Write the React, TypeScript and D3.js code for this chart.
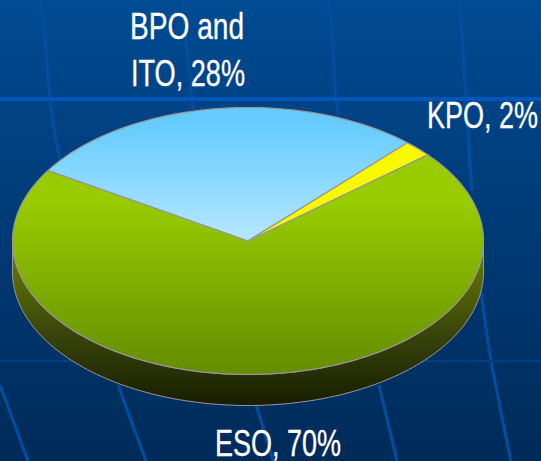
import React from "react";
import * as d3 from "d3";

const categories = ["BPO and ITO", "KPO", "ESO"];
const shares = [28, 2, 70];
const sliceFills = ["url(#blue)", "#f8f800", "url(#green)"];
const gridLines: [number, number][][] = [
  [[41, 0], [46, 50], [50, 99], [54, 130], [60, 160]],
  [[182, 0], [187, 50], [192, 99], [194, 112]],
  [[329, 0], [333, 50], [336, 99], [339, 120]],
  [[460, 0], [463, 50], [466, 99], [469, 150], [472, 190]],
  [[481, 292], [491, 360], [511, 461]],
  [[379, 385], [397, 461]],
  [[256, 405], [270, 450], [273, 461]],
  [[118, 385], [146, 461]],
  [[0, 385], [28, 461]],
];
const START = (-58.2 * Math.PI) / 180;

const cx = 248, cy = 241, rx = 235.5, ry = 133.5, depth = 31;

function pt(a: number, dy = 0): [number, number] {
  return [cx + rx * Math.sin(a), cy - ry * Math.cos(a) + dy];
}
function arcPts(a0: number, a1: number, dy = 0) {
  const n = Math.max(2, Math.ceil(Math.abs(a1 - a0) * 40));
  return d3.range(n + 1).map((i) => pt(a0 + ((a1 - a0) * i) / n, dy));
}
const line = d3.line();
const smooth = d3.line().curve(d3.curveCatmullRom);

export default function App() {
  const arcs = d3.pie<number>().sort(null).startAngle(START).endAngle(START + 2 * Math.PI)(shares);
  const wallPts = [...arcPts(Math.PI / 2, (3 * Math.PI) / 2), ...arcPts((3 * Math.PI) / 2, Math.PI / 2, depth)];
  const textStyle: React.CSSProperties = { fontFamily: "'Liberation Sans', sans-serif", fontSize: 36, fill: "#fff", stroke: "#fff", strokeWidth: 0.3 };
  const label = (t: string, x: number, y: number, w: number) => (
    <text x={x} y={y} textLength={w} lengthAdjust="spacingAndGlyphs" style={textStyle}>{t}</text>
  );
  return (
    <svg width={541} height={461} style={{ position: "fixed", left: 0, top: 0 }}>
      <defs>
        <linearGradient id="bg" x1="0" y1="0" x2="0" y2="1">
          <stop offset="0" stopColor="#004b93" />
          <stop offset="0.5" stopColor="#003a76" />
          <stop offset="1" stopColor="#002b5a" />
        </linearGradient>
        <linearGradient id="blue" gradientUnits="userSpaceOnUse" x1="0" y1="125" x2="0" y2="241">
          <stop offset="0" stopColor="#66ccff" />
          <stop offset="1" stopColor="#b6e7ff" />
        </linearGradient>
        <linearGradient id="green" gradientUnits="userSpaceOnUse" x1="0" y1="200" x2="0" y2="376">
          <stop offset="0" stopColor="#99cc00" />
          <stop offset="1" stopColor="#648c00" />
        </linearGradient>
        <linearGradient id="wall" gradientUnits="userSpaceOnUse" x1="0" y1="245" x2="0" y2="407">
          <stop offset="0" stopColor="#6b8000" />
          <stop offset="0.55" stopColor="#39440a" />
          <stop offset="1" stopColor="#161c00" />
        </linearGradient>
      </defs>
      <rect width={541} height={461} fill="url(#bg)" />
      {gridLines.map((l, i) => (
        <path key={i} d={smooth(l) ?? ""} fill="none" stroke="#004f9f" strokeWidth={3} />
      ))}
      <rect x={0} y={97} width={541} height={4} fill="#0056b8" />
      <rect x={0} y={360} width={541} height={2} fill="#003f7f" />
      <path d={(line(wallPts) ?? "") + "Z"} fill="url(#wall)" stroke="#999" strokeWidth={1} />
      {arcs.map((a, i) => (
        <path
          key={categories[i]}
          d={(line([[cx, cy], ...arcPts(a.startAngle, a.endAngle)]) ?? "") + "Z"}
          fill={sliceFills[i]}
          stroke="#969696"
          strokeWidth={1.2}
          strokeLinejoin="round"
        />
      ))}
      {label("BPO and", 130, 39, 114)}
      {label("ITO, 28%", 131, 86, 114)}
      {label("KPO, 2%", 427, 128, 111)}
      {label("ESO, 70%", 215, 456, 126)}
    </svg>
  );
}
